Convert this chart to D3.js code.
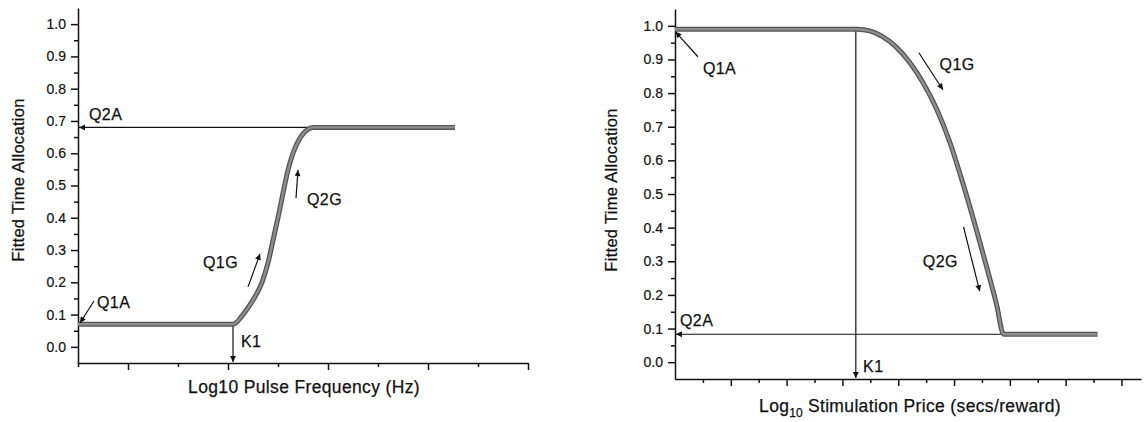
<!DOCTYPE html>
<html>
<head>
<meta charset="utf-8">
<script src="https://cdn.jsdelivr.net/npm/d3@7"></script>
<style>
  html, body { margin: 0; padding: 0; background: #fff; }
  svg { display: block; font-family: "Liberation Sans", Arial, sans-serif; }
  .tick text { font-size: 14px; fill: #111; stroke: #111; stroke-width: 0.2; }
  .domain, .tick line { stroke: #111; stroke-width: 1.5; }
  .ink { fill: #111; stroke: #111; stroke-width: 0.25; }
</style>
</head>
<body>
<svg id="fig" width="1145" height="422"></svg>
<script>
// ---- Left panel: allocation vs. log10 pulse frequency ----
const freqX = [0.5, 2.05, 2.15, 2.25, 2.34, 2.40, 2.45, 2.50, 2.55, 2.60, 2.65, 2.72, 2.79, 2.85, 4.27];
const freqY = [0.07, 0.07, 0.10, 0.145, 0.20, 0.26, 0.33, 0.40, 0.476, 0.548, 0.60, 0.647, 0.672, 0.68, 0.68];
const freqK1 = 2.05;
const freqQ1A = 0.07;
const freqQ2A = 0.68;

// ---- Right panel: allocation vs. log10 stimulation price ----
const priceX = [0, 3.26, 3.49, 3.72, 3.97, 4.21, 4.44, 4.69, 4.92, 5.16, 5.51, 5.76, 5.89, 7.57];
const priceY = [0.99, 0.99, 0.985, 0.968, 0.936, 0.89, 0.832, 0.752, 0.656, 0.531, 0.328, 0.173, 0.083, 0.083];
const priceK1 = 3.24;
const priceQ1A = 0.99;
const priceQ2A = 0.083;

// Axis ticks
const yMajor = [0, 0.1, 0.2, 0.3, 0.4, 0.5, 0.6, 0.7, 0.8, 0.9, 1.0];
const yMinor = [0.05, 0.15, 0.25, 0.35, 0.45, 0.55, 0.65, 0.75, 0.85, 0.95];
const freqMajor = [1, 2, 3, 4, 5];
const freqMinor = [0.5, 1.5, 2.5, 3.5, 4.5];
const priceMajor = [1, 2, 3, 4, 5, 6, 7, 8];
const priceMinor = [0.5, 1.5, 2.5, 3.5, 4.5, 5.5, 6.5, 7.5];

// Annotation text: [label, x, y] in data units
const freqLabels = [["Q2A", 0.61, 0.703], ["Q1A", 0.69, 0.121], ["Q1G", 1.75, 0.245], ["Q2G", 2.79, 0.44], ["K1", 2.13, 0.0]];
const priceLabels = [["Q1A", 0.50, 0.857], ["Q1G", 4.74, 0.869], ["Q2G", 4.44, 0.283], ["Q2A", 0.09, 0.107], ["K1", 3.37, -0.03]];
// Pointer arrows: [x0, y0, x1, y1], head at (x1, y1)
const freqPointers = [[0.66, 0.142, 0.52, 0.074], [2.20, 0.186, 2.32, 0.288], [2.68, 0.461, 2.70, 0.548]];
const pricePointers = [[0.41, 0.908, 0.01, 0.982], [4.37, 0.92, 4.80, 0.81], [5.17, 0.402, 5.46, 0.211]];

const svg = d3.select("#fig");

const defs = svg.append("defs");
defs.append("marker")
  .attr("id", "head")
  .attr("viewBox", "0 0 10 10")
  .attr("refX", 10).attr("refY", 5)
  .attr("markerWidth", 8).attr("markerHeight", 6)
  .attr("markerUnits", "userSpaceOnUse")
  .attr("orient", "auto")
  .append("path").attr("d", "M0,0 L10,5 L0,10 Z").attr("fill", "#111");

function panel(opts) {
  const x = d3.scaleLinear().domain(opts.xDomain).range(opts.xRange);
  const y = d3.scaleLinear().domain([-0.05, 1.05]).range(opts.yRange);
  const g = svg.append("g");
  const x0 = opts.xRange[0];
  const yb = opts.yRange[0];

  // y axis: majors with labels, minors without
  g.append("g").attr("transform", `translate(${x0},0)`)
    .call(d3.axisLeft(y).tickValues(yMajor).tickSize(7).tickSizeOuter(0).tickPadding(5).tickFormat(d3.format(".1f")));
  g.append("g").attr("transform", `translate(${x0},0)`)
    .call(d3.axisLeft(y).tickValues(yMinor).tickSize(4).tickSizeOuter(0).tickFormat(""))
    .select(".domain").remove();

  // x axis: unlabelled ticks
  g.append("g").attr("transform", `translate(0,${yb})`)
    .call(d3.axisBottom(x).tickValues(opts.xMajor).tickSize(7).tickSizeOuter(0).tickFormat(""));
  g.append("g").attr("transform", `translate(0,${yb})`)
    .call(d3.axisBottom(x).tickValues(opts.xMinor).tickSize(4).tickSizeOuter(0).tickFormat(""))
    .select(".domain").remove();

  // reference lines: K1 drop line and Q2A level line
  g.append("line")
    .attr("x1", x(opts.q2aX)).attr("y1", y(opts.q2a))
    .attr("x2", x0 + 1).attr("y2", y(opts.q2a))
    .attr("stroke", "#111").attr("stroke-width", 1.2)
    .attr("marker-end", "url(#head)");
  g.append("line")
    .attr("x1", x(opts.k1)).attr("y1", y(opts.k1Y))
    .attr("x2", x(opts.k1)).attr("y2", yb - 1)
    .attr("stroke", "#111").attr("stroke-width", 1.2)
    .attr("marker-end", "url(#head)");

  // fitted curve
  const line = d3.line().x(d => x(d[0])).y(d => y(d[1])).curve(d3.curveMonotoneX);
  const pts = opts.cx.map((v, i) => [v, opts.cy[i]]);
  g.append("path").attr("d", line(pts)).attr("fill", "none")
    .attr("stroke", "#555").attr("stroke-width", 5).attr("stroke-linejoin", "round");
  g.append("path").attr("d", line(pts)).attr("fill", "none")
    .attr("stroke", "#8e8e8e").attr("stroke-width", 2.4).attr("stroke-linejoin", "round");

  // pointer arrows
  g.selectAll(".ptr").data(opts.pointers).join("line")
    .attr("x1", d => x(d[0])).attr("y1", d => y(d[1]))
    .attr("x2", d => x(d[2])).attr("y2", d => y(d[3]))
    .attr("stroke", "#111").attr("stroke-width", 1.2)
    .attr("marker-end", "url(#head)");

  // annotation labels
  g.selectAll(".lbl").data(opts.labels).join("text")
    .attr("class", "ink")
    .attr("x", d => x(d[1])).attr("y", d => y(d[2]))
    .attr("font-size", 16).attr("letter-spacing", 0.4)
    .text(d => d[0]);

  // y title
  g.append("text")
    .attr("class", "ink")
    .attr("transform", `translate(${opts.yTitleX},${opts.yTitleY}) rotate(-90)`)
    .attr("text-anchor", "middle").attr("font-size", 16.5).attr("letter-spacing", 0.3)
    .text("Fitted Time Allocation");

  return { x, y, g };
}

panel({
  xDomain: [0.5, 5], xRange: [78, 528], yRange: [363, 8],
  xMajor: freqMajor, xMinor: freqMinor,
  cx: freqX, cy: freqY,
  k1: freqK1, k1Y: freqQ1A, q2a: freqQ2A, q2aX: 2.85,
  pointers: freqPointers, labels: freqLabels,
  yTitleX: 24, yTitleY: 180
});

panel({
  xDomain: [0, 8.35], xRange: [675, 1141], yRange: [379, 9],
  xMajor: priceMajor, xMinor: priceMinor,
  cx: priceX, cy: priceY,
  k1: priceK1, k1Y: priceQ1A, q2a: priceQ2A, q2aX: 5.89,
  pointers: pricePointers, labels: priceLabels,
  yTitleX: 617, yTitleY: 190
});

// x titles
svg.append("text")
  .attr("class", "ink")
  .attr("x", 304).attr("y", 393)
  .attr("text-anchor", "middle").attr("font-size", 17.5).attr("letter-spacing", 0.35)
  .text("Log10 Pulse Frequency (Hz)");

const xt = svg.append("text")
  .attr("class", "ink")
  .attr("x", 910).attr("y", 412)
  .attr("text-anchor", "middle").attr("font-size", 17.5).attr("letter-spacing", 0.35);
xt.append("tspan").text("Log");
xt.append("tspan").attr("font-size", 12).attr("dy", 5).attr("letter-spacing", 0).text("10");
xt.append("tspan").attr("dy", -5).text(" Stimulation Price (secs/reward)");
</script>
</body>
</html>
